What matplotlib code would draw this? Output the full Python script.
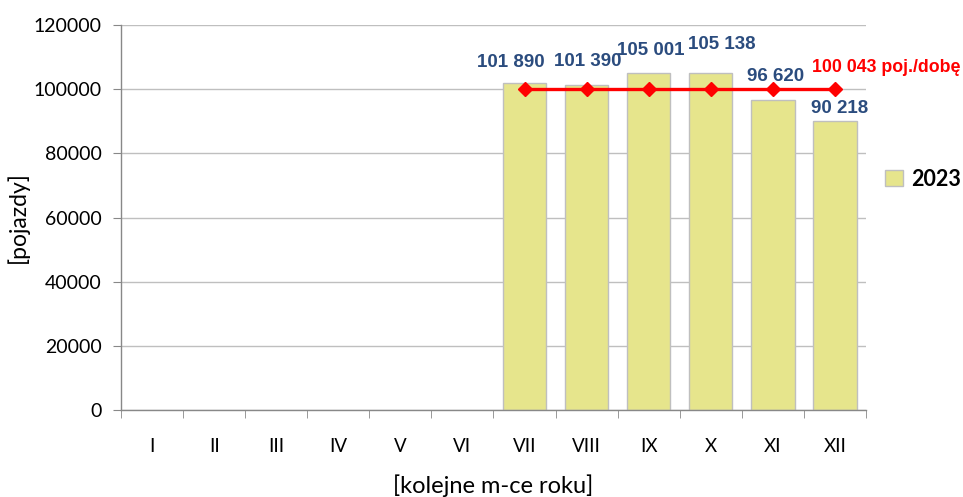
import numpy as np
import matplotlib.pyplot as plt

# dane
miesiace = ["I", "II", "III", "IV", "V", "VI", "VII", "VIII", "IX", "X", "XI", "XII"]
ruch_2023 = [np.nan] * 6 + [101890, 101390, 105001, 105138, 96620, 90218]
srednia = 100043
etykiety = ["101 890", "101 390", "105 001", "105 138", "96 620", "90 218"]

# położenie etykiet (przesunięcie w osi x, wysokość)
etyk_x = [-0.22, 0.02, 0.04, 0.18, 0.05, 0.07]
etyk_y = [108200, 108500, 112200, 113800, 103800, 94100]

plt.rcParams['font.family'] = ['Lato', 'DejaVu Sans']

fig = plt.figure(figsize=(9.63, 4.97), dpi=100)
ax = fig.add_axes([0.1257, 0.175, 0.7735, 0.7747])

x = np.arange(len(miesiace))
ax.bar(x, ruch_2023, width=0.7, color="#E6E58C", edgecolor="#BFBFBF",
       linewidth=1, label="2023", zorder=2)

idx = [i for i, v in enumerate(ruch_2023) if not np.isnan(v)]
ax.plot(idx, [srednia] * len(idx), color="#FF0000", linewidth=2.4,
        marker="D", markersize=7, zorder=3)

for k, i in enumerate(idx):
    ax.text(i + etyk_x[k], etyk_y[k], etykiety[k], ha="center", va="center",
            fontsize=13.5, fontweight="bold", color="#2B4C7E",
            family="Liberation Sans", zorder=4)

ax.text(10.63, 106600, "100 043 poj./dobę", ha="left", va="center",
        fontsize=12.8, fontweight="bold", color="#FF0000",
        family="Liberation Sans", zorder=4)

ax.set_xlim(-0.5, 11.5)
ax.set_ylim(0, 120000)
ax.set_yticks(np.arange(0, 120001, 20000))
ax.set_xticks(x)
ax.set_xticklabels(miesiace, fontsize=13.5)
ax.set_xticks(np.arange(-0.5, 12, 1), minor=True)
ax.tick_params(axis="x", which="major", length=0, pad=20)
ax.tick_params(axis="x", which="minor", length=6, color="#888888", direction="out")
ax.tick_params(axis="y", length=6, color="#888888", labelsize=14, pad=8)
ax.yaxis.grid(True, color="#BFBFBF", linewidth=1, zorder=0)
ax.set_axisbelow(True)

for s in ["top", "right"]:
    ax.spines[s].set_visible(False)
for s in ["left", "bottom"]:
    ax.spines[s].set_color("#888888")
    ax.spines[s].set_linewidth(1)

ax.set_ylabel("[pojazdy]", fontsize=16.5, labelpad=3)
ax.set_xlabel("[kolejne m-ce roku]", fontsize=17, labelpad=14)

leg = ax.legend(loc="center left", bbox_to_anchor=(1.0, 0.6), frameon=False,
                prop={"size": 15.5, "weight": "bold"}, handlelength=0.8,
                handleheight=0.8, handletextpad=0.4)

fig.savefig("out.png", dpi=100)
